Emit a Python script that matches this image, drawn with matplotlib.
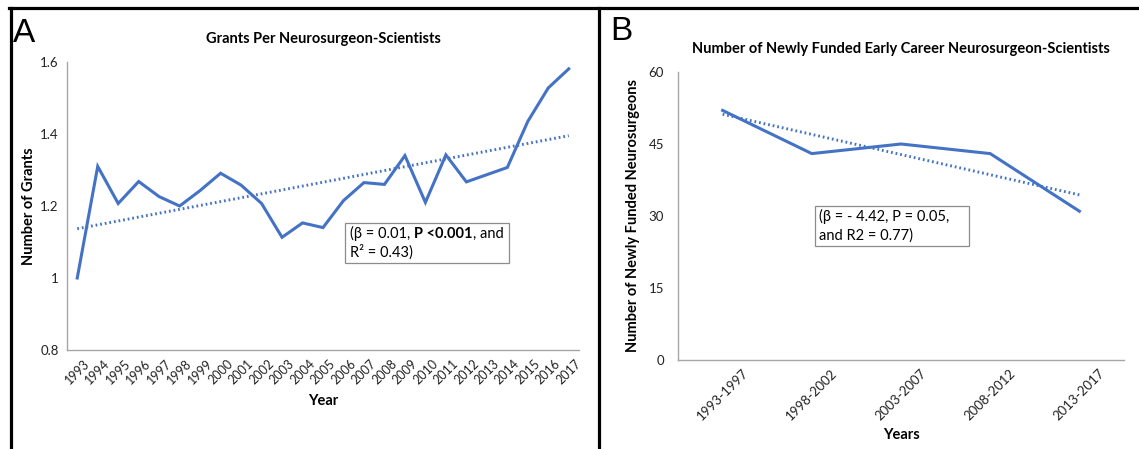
import numpy as np
import matplotlib
matplotlib.use("Agg")
import matplotlib.pyplot as plt
from matplotlib.lines import Line2D
from matplotlib.patches import Rectangle

plt.rcParams['font.family'] = ['Lato', 'DejaVu Sans']

# ------------------------------------------------------------
# Data
# ------------------------------------------------------------

years = [str(y) for y in range(1993, 2018)]
grants_per_scientist = [1.00, 1.31, 1.207, 1.268, 1.226, 1.200, 1.243, 1.291,
                        1.258, 1.207, 1.113, 1.153, 1.140, 1.215, 1.265, 1.260,
                        1.340, 1.210, 1.342, 1.267, 1.287, 1.307, 1.435, 1.528,
                        1.581]

periods = ["1993-1997", "1998-2002", "2003-2007", "2008-2012", "2013-2017"]
newly_funded = [52.0, 43.0, 45.0, 43.0, 31.0]

BLUE = "#4472C4"
SPINE = "#A6A6A6"
W, H = 1139, 449

fig = plt.figure(figsize=(W / 100, H / 100), dpi=100)


def px_axes(left, top, right, bottom):
    return fig.add_axes([left / W, 1 - bottom / H, (right - left) / W, (bottom - top) / H])


def style_axes(ax):
    for side in ["top", "right"]:
        ax.spines[side].set_visible(False)
    for side in ["left", "bottom"]:
        ax.spines[side].set_color(SPINE)
        ax.spines[side].set_linewidth(1.0)
    ax.tick_params(length=0, colors="#222222")


def stat_box(ax, x0, y0, x1, y1, pieces, line2):
    # pieces: list of (text, weight) on line one, placed side by side
    ax.add_patch(Rectangle((x0, y0), x1 - x0, y1 - y0, transform=ax.transAxes,
                           fill=False, edgecolor="#8C8C8C", linewidth=0.9,
                           clip_on=False, zorder=5))
    renderer = fig.canvas.get_renderer()
    lx = x0 + 0.010
    ly1 = y1 - 0.052
    ly2 = y1 - 0.118
    x = lx
    for txt, weight in pieces:
        t = ax.text(x, ly1, txt, transform=ax.transAxes, fontsize=10.5,
                    fontweight=weight, va="baseline", ha="left", zorder=6)
        bb = t.get_window_extent(renderer=renderer)
        x = ax.transAxes.inverted().transform((bb.x1, bb.y0))[0]
    ax.text(lx, ly2, line2, transform=ax.transAxes, fontsize=10.5,
            va="baseline", ha="left", zorder=6)


# ------------------------------------------------------------
# Panel A
# ------------------------------------------------------------

axA = px_axes(67, 62, 579, 350)
xa = np.arange(len(years))
axA.plot(xa, grants_per_scientist, color=BLUE, linewidth=2.2, solid_joinstyle="miter")
fitA = np.polyfit(xa, grants_per_scientist, 1)
axA.plot(xa, np.polyval(fitA, xa), color=BLUE, linewidth=2.1, linestyle=(0, (0.6, 1.0)))
axA.set_xlim(-0.5, len(years) - 0.5)
axA.set_ylim(0.8, 1.6)
axA.set_yticks([0.8, 1.0, 1.2, 1.4, 1.6])
axA.set_yticklabels(["0.8", "1", "1.2", "1.4", "1.6"], fontsize=9.5)
axA.set_xticks(xa)
axA.set_xticklabels(years, rotation=45, ha="center", va="top", fontsize=9)
style_axes(axA)
axA.tick_params(axis="y", pad=6)
axA.tick_params(axis="x", pad=5)
axA.set_ylabel("Number of Grants", fontsize=10.5, fontweight="bold", labelpad=3)
axA.set_xlabel("Year", fontsize=10.5, fontweight="bold", labelpad=6)
axA.set_title("Grants Per Neurosurgeon-Scientists", fontsize=10.5, fontweight="bold", pad=14)

stat_box(axA, 0.543, 0.302, 0.863, 0.441,
         [("(β = 0.01, ", "normal"), ("P <0.001", "bold"), (", and", "normal")],
         "R² = 0.43)")

# ------------------------------------------------------------
# Panel B
# ------------------------------------------------------------

axB = px_axes(678, 72, 1124, 360)
xb = np.arange(len(periods))
axB.plot(xb, newly_funded, color=BLUE, linewidth=2.2)
fitB = np.polyfit(xb, newly_funded, 1)
axB.plot(xb, np.polyval(fitB, xb), color=BLUE, linewidth=2.1, linestyle=(0, (0.6, 1.0)))
axB.set_xlim(-0.5, len(periods) - 0.5)
axB.set_ylim(0, 60)
axB.set_yticks([0, 15, 30, 45, 60])
axB.set_yticklabels(["0", "15", "30", "45", "60"], fontsize=9.5)
axB.set_xticks(xb)
axB.set_xticklabels(periods, rotation=45, ha="center", va="top", fontsize=9.5)
style_axes(axB)
axB.tick_params(axis="y", pad=10)
axB.tick_params(axis="x", pad=5)
axB.set_ylabel("Number of Newly Funded Neurosurgeons", fontsize=10.5, fontweight="bold", labelpad=6)
axB.set_xlabel("Years", fontsize=10.5, fontweight="bold", labelpad=4)
axB.set_title("Number of Newly Funded Early Career Neurosurgeon-Scientists",
              fontsize=10.5, fontweight="bold", pad=14)

stat_box(axB, 0.307, 0.396, 0.652, 0.535,
         [("(β = - 4.42, P = 0.05,", "normal")],
         "and R2 = 0.77)")

# ------------------------------------------------------------
# Panel letters and frame lines
# ------------------------------------------------------------

fig.text(13 / W, 1 - 42 / H, "A", fontsize=24, family="Liberation Sans", va="baseline")
fig.text(610 / W, 1 - 40 / H, "B", fontsize=24, family="Liberation Sans", va="baseline")

for xs, ys in [([9, W], [7.5, 7.5]), ([10.5, 10.5], [7.5, H]), ([599, 599], [7.5, H])]:
    fig.add_artist(Line2D([x / W for x in xs], [1 - y / H for y in ys],
                          transform=fig.transFigure, color="black", linewidth=2.3))

fig.savefig("out.png", dpi=100)
